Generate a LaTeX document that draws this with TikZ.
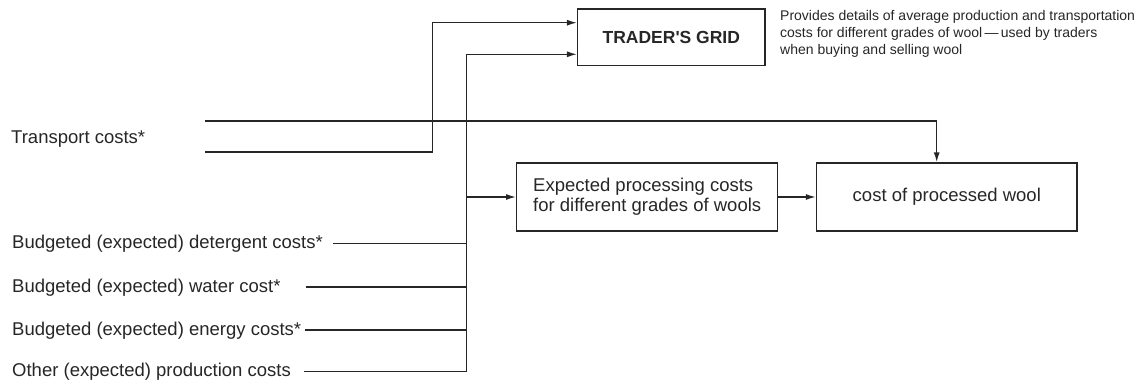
\documentclass[tikz,border=0pt]{standalone}
\usepackage{fontspec}
\setmainfont{Liberation Sans}
\usetikzlibrary{arrows.meta}
\definecolor{ink}{HTML}{262626}
\begin{document}
\begin{tikzpicture}[x=1pt,y=-1pt,
  lbl/.style={anchor=base west, inner sep=0pt, font=\fontsize{18.5}{20}\selectfont, text=ink},
  box/.style={draw=ink, line width=1.4pt, inner sep=0pt, font=\fontsize{18.5}{20}\selectfont, text=ink},
  wire/.style={draw=ink, line width=1.4pt},
  feed/.style={wire, -{Latex[length=10pt,width=6pt]}},
  notetext/.style={anchor=north west, inner sep=0pt, align=left, font=\fontsize{14}{17}\selectfont, text=ink}]
\useasboundingbox (0,0) rectangle (1146,383);

% boxes
\node[box, minimum width=187.3pt, minimum height=56.7pt,
      font={\fontsize{17.5}{20}\selectfont\bfseries}] (grid) at (671.3,37.3) {TRADER\textquotesingle S GRID};
\node[box, minimum width=261pt, minimum height=68pt, align=left] (proc) at (647.2,197)
  {Expected processing costs\\for different grades of wools};
\node[box, minimum width=260.5pt, minimum height=68pt] (cost) at (946.8,197) {cost of processed wool};

% explanatory note
\node[notetext] (note) at (780,9.8)
  {Provides details of average production and transportation\\
   costs for different grades of wool\,—\,used by traders\\
   when buying and selling wool};

% input labels
\node[lbl] (transport) at (11,143.3) {Transport costs*};
\node[lbl] (detergent) at (12,248.3) {Budgeted (expected) detergent costs*};
\node[lbl] (water)     at (12,292)   {Budgeted (expected) water cost*};
\node[lbl] (energy)    at (12,335)   {Budgeted (expected) energy costs*};
\node[lbl] (other)     at (12,376.7) {Other (expected) production costs};

% line ends and bends
\coordinate (t1) at (205,121);
\coordinate (t2) at (205,152);
\coordinate (drop) at (936.7,121);
\coordinate (kink) at (432.7,152);
\coordinate (busTop) at (466.7,54.3);
\coordinate (busBot) at (466.7,371.7);
\coordinate (d0) at (333,243.3);
\coordinate (w0) at (306,287);
\coordinate (e0) at (305,330);
\coordinate (o0) at (304,371.7);

% transport costs
\draw[feed] (t1) -- (drop) -- (drop |- cost.north);
\draw[feed] (t2) -- (kink) |- ([yshift=14.6pt]grid.west);

% collecting bus for processing costs
\draw[wire] (busBot) -- (busTop);
\draw[feed] (busTop) -- (busTop -| grid.west);
\draw[feed] (proc.west -| busTop) -- (proc.west);
\draw[wire] (d0) -- (d0 -| busTop);
\draw[wire] (w0) -- (w0 -| busTop);
\draw[wire] (e0) -- (e0 -| busTop);
\draw[wire] (o0) -- (busBot);

\draw[feed] (proc.east) -- (cost.west);
\end{tikzpicture}
\end{document}
